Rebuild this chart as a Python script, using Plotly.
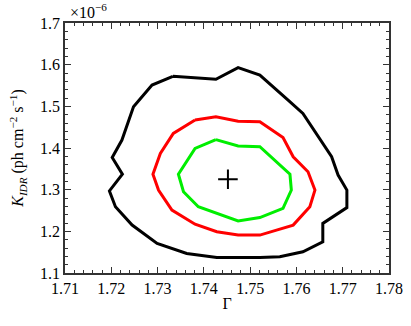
import plotly.graph_objects as go

# Contour data (Gamma, K_IDR in units of 1e-6 ph cm^-2 s^-1)
black_x = [1.7333, 1.7426, 1.7474, 1.7521, 1.7582, 1.7614, 1.7676, 1.7690, 1.7709, 1.7709,
           1.7657, 1.7657, 1.7614, 1.7564, 1.7521, 1.7428, 1.7363, 1.7299, 1.7245, 1.7209,
           1.7196, 1.7224, 1.7202, 1.7223, 1.7248, 1.7288, 1.7333]
black_y = [1.572, 1.565, 1.593, 1.575, 1.515, 1.483, 1.379, 1.335, 1.299, 1.257,
           1.219, 1.175, 1.151, 1.139, 1.137, 1.137, 1.147, 1.171, 1.215, 1.259,
           1.297, 1.337, 1.377, 1.419, 1.499, 1.551, 1.572]

red_x = [1.7381, 1.7426, 1.7474, 1.7521, 1.7571, 1.7593, 1.7625, 1.7640, 1.7629, 1.7593,
         1.7557, 1.7521, 1.7474, 1.7428, 1.7381, 1.7331, 1.7302, 1.7290, 1.7306, 1.7334, 1.7381]
red_y = [1.467, 1.475, 1.464, 1.463, 1.425, 1.379, 1.343, 1.299, 1.259, 1.215,
         1.203, 1.191, 1.191, 1.199, 1.217, 1.251, 1.299, 1.337, 1.387, 1.435, 1.467]

green_x = [1.7426, 1.7474, 1.7521, 1.7553, 1.7586, 1.7589, 1.7571, 1.7521, 1.7474,
           1.7388, 1.7356, 1.7345, 1.7381, 1.7426]
green_y = [1.420, 1.405, 1.403, 1.371, 1.337, 1.299, 1.255, 1.233, 1.225,
           1.259, 1.295, 1.337, 1.399, 1.420]

best_x = [1.7452]
best_y = [1.325]

x_ticks = [1.71, 1.72, 1.73, 1.74, 1.75, 1.76, 1.77, 1.78]
y_ticks = [1.1, 1.2, 1.3, 1.4, 1.5, 1.6, 1.7]

fig = go.Figure()
for xs, ys, col in [(black_x, black_y, "black"), (red_x, red_y, "#ff0000"), (green_x, green_y, "#00ee00")]:
    fig.add_trace(go.Scatter(x=xs, y=ys, mode="lines", line=dict(color=col, width=3),
                             showlegend=False, hoverinfo="skip"))
fig.add_trace(go.Scatter(x=best_x, y=best_y, mode="markers",
                         marker=dict(symbol="cross-thin", size=14, line=dict(color="black", width=2)),
                         showlegend=False))

font = dict(family="Liberation Serif", size=16, color="black")
axis_common = dict(showline=True, linecolor="#333", linewidth=1.5, mirror="ticks",
                   ticks="inside", ticklen=6, tickwidth=1, tickcolor="#333",
                   showgrid=False, zeroline=False, tickfont=font, automargin=False)
fig.update_xaxes(range=[1.71, 1.78], tickvals=x_ticks, ticktext=[f"{v:.2f}" for v in x_ticks],
                 minor=dict(ticks="inside", dtick=0.002, ticklen=3, tickcolor="#333", showgrid=False),
                 title=dict(text="Γ", font=font, standoff=2), **axis_common)
fig.update_yaxes(range=[1.1, 1.7], tickvals=y_ticks, ticktext=[f"{v:.1f}" for v in y_ticks],
                 minor=dict(ticks="inside", dtick=0.02, ticklen=3, tickcolor="#333", showgrid=False),
                 title=dict(text="<i>K</i><sub><i>IDR</i></sub> (ph cm<sup>−2</sup> s<sup>−1</sup>)",
                            font=font, standoff=12), **axis_common)
fig.add_annotation(text="×10<sup>−6</sup>", xref="paper", yref="paper", x=0.01, y=1.0,
                   xanchor="left", yanchor="bottom", showarrow=False, font=font)
fig.update_layout(width=411, height=326, margin=dict(l=64.5, r=21.5, t=22.7, b=53.3),
                  plot_bgcolor="white", paper_bgcolor="white", font=font)
fig.write_html("out.html", config={"displayModeBar": False},
               post_script="document.body.style.margin='0';document.body.style.padding='0';")
